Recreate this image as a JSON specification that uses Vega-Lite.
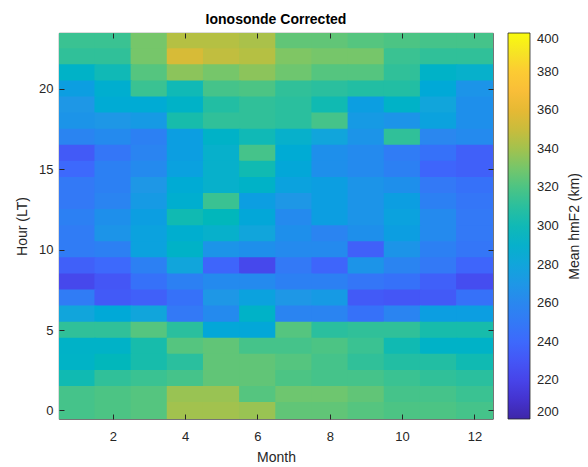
{
  "$schema": "https://vega.github.io/schema/vega-lite/v6.json",
  "width": 434,
  "height": 386,
  "autosize": {"type": "none"},
  "padding": {"left": 59, "top": 33, "right": 95, "bottom": 48},
  "background": "white",
  "config": {
    "font": "Liberation Sans",
    "view": {"stroke": "#262626", "strokeWidth": 0.8},
    "axis": {"labelFont": "Liberation Sans", "titleFont": "Liberation Sans", "labelColor": "#262626", "titleColor": "#262626", "labelFontSize": 13, "titleFontSize": 14, "titleFontWeight": "normal", "tickColor": "#262626", "domain": false, "grid": false}
  },
  "title": {"text": "Ionosonde Corrected", "fontSize": 14, "fontWeight": "bold", "color": "#000000", "font": "Liberation Sans", "anchor": "middle", "offset": 6},
  "data": {"values": [
{"h":23,"m":1,"v":315},{"h":23,"m":2,"v":315},{"h":23,"m":3,"v":330},{"h":23,"m":4,"v":345},{"h":23,"m":5,"v":345},{"h":23,"m":6,"v":342},{"h":23,"m":7,"v":325},{"h":23,"m":8,"v":325},{"h":23,"m":9,"v":322},{"h":23,"m":10,"v":320},{"h":23,"m":11,"v":318},{"h":23,"m":12,"v":318},
{"h":22,"m":1,"v":312},{"h":22,"m":2,"v":312},{"h":22,"m":3,"v":330},{"h":22,"m":4,"v":355},{"h":22,"m":5,"v":348},{"h":22,"m":6,"v":345},{"h":22,"m":7,"v":332},{"h":22,"m":8,"v":330},{"h":22,"m":9,"v":330},{"h":22,"m":10,"v":315},{"h":22,"m":11,"v":312},{"h":22,"m":12,"v":312},
{"h":21,"m":1,"v":292},{"h":21,"m":2,"v":300},{"h":21,"m":3,"v":322},{"h":21,"m":4,"v":335},{"h":21,"m":5,"v":330},{"h":21,"m":6,"v":335},{"h":21,"m":7,"v":328},{"h":21,"m":8,"v":322},{"h":21,"m":9,"v":322},{"h":21,"m":10,"v":312},{"h":21,"m":11,"v":292},{"h":21,"m":12,"v":290},
{"h":20,"m":1,"v":275},{"h":20,"m":2,"v":288},{"h":20,"m":3,"v":315},{"h":20,"m":4,"v":300},{"h":20,"m":5,"v":318},{"h":20,"m":6,"v":320},{"h":20,"m":7,"v":312},{"h":20,"m":8,"v":310},{"h":20,"m":9,"v":308},{"h":20,"m":10,"v":308},{"h":20,"m":11,"v":283},{"h":20,"m":12,"v":268},
{"h":19,"m":1,"v":270},{"h":19,"m":2,"v":285},{"h":19,"m":3,"v":285},{"h":19,"m":4,"v":292},{"h":19,"m":5,"v":308},{"h":19,"m":6,"v":312},{"h":19,"m":7,"v":310},{"h":19,"m":8,"v":302},{"h":19,"m":9,"v":275},{"h":19,"m":10,"v":292},{"h":19,"m":11,"v":280},{"h":19,"m":12,"v":265},
{"h":18,"m":1,"v":268},{"h":18,"m":2,"v":270},{"h":18,"m":3,"v":272},{"h":18,"m":4,"v":305},{"h":18,"m":5,"v":312},{"h":18,"m":6,"v":312},{"h":18,"m":7,"v":310},{"h":18,"m":8,"v":318},{"h":18,"m":9,"v":272},{"h":18,"m":10,"v":268},{"h":18,"m":11,"v":278},{"h":18,"m":12,"v":265},
{"h":17,"m":1,"v":258},{"h":17,"m":2,"v":262},{"h":17,"m":3,"v":255},{"h":17,"m":4,"v":275},{"h":17,"m":5,"v":292},{"h":17,"m":6,"v":300},{"h":17,"m":7,"v":290},{"h":17,"m":8,"v":280},{"h":17,"m":9,"v":268},{"h":17,"m":10,"v":312},{"h":17,"m":11,"v":260},{"h":17,"m":12,"v":262},
{"h":16,"m":1,"v":232},{"h":16,"m":2,"v":248},{"h":16,"m":3,"v":258},{"h":16,"m":4,"v":275},{"h":16,"m":5,"v":290},{"h":16,"m":6,"v":318},{"h":16,"m":7,"v":285},{"h":16,"m":8,"v":265},{"h":16,"m":9,"v":262},{"h":16,"m":10,"v":252},{"h":16,"m":11,"v":245},{"h":16,"m":12,"v":235},
{"h":15,"m":1,"v":240},{"h":15,"m":2,"v":255},{"h":15,"m":3,"v":262},{"h":15,"m":4,"v":277},{"h":15,"m":5,"v":290},{"h":15,"m":6,"v":302},{"h":15,"m":7,"v":282},{"h":15,"m":8,"v":265},{"h":15,"m":9,"v":262},{"h":15,"m":10,"v":255},{"h":15,"m":11,"v":238},{"h":15,"m":12,"v":235},
{"h":14,"m":1,"v":250},{"h":14,"m":2,"v":255},{"h":14,"m":3,"v":270},{"h":14,"m":4,"v":285},{"h":14,"m":5,"v":290},{"h":14,"m":6,"v":292},{"h":14,"m":7,"v":278},{"h":14,"m":8,"v":275},{"h":14,"m":9,"v":268},{"h":14,"m":10,"v":265},{"h":14,"m":11,"v":250},{"h":14,"m":12,"v":245},
{"h":13,"m":1,"v":250},{"h":13,"m":2,"v":258},{"h":13,"m":3,"v":272},{"h":13,"m":4,"v":288},{"h":13,"m":5,"v":315},{"h":13,"m":6,"v":275},{"h":13,"m":7,"v":270},{"h":13,"m":8,"v":275},{"h":13,"m":9,"v":268},{"h":13,"m":10,"v":275},{"h":13,"m":11,"v":255},{"h":13,"m":12,"v":248},
{"h":12,"m":1,"v":255},{"h":12,"m":2,"v":265},{"h":12,"m":3,"v":275},{"h":12,"m":4,"v":302},{"h":12,"m":5,"v":298},{"h":12,"m":6,"v":282},{"h":12,"m":7,"v":262},{"h":12,"m":8,"v":275},{"h":12,"m":9,"v":268},{"h":12,"m":10,"v":278},{"h":12,"m":11,"v":262},{"h":12,"m":12,"v":250},
{"h":11,"m":1,"v":252},{"h":11,"m":2,"v":268},{"h":11,"m":3,"v":278},{"h":11,"m":4,"v":288},{"h":11,"m":5,"v":290},{"h":11,"m":6,"v":280},{"h":11,"m":7,"v":265},{"h":11,"m":8,"v":258},{"h":11,"m":9,"v":265},{"h":11,"m":10,"v":275},{"h":11,"m":11,"v":262},{"h":11,"m":12,"v":250},
{"h":10,"m":1,"v":252},{"h":10,"m":2,"v":255},{"h":10,"m":3,"v":278},{"h":10,"m":4,"v":292},{"h":10,"m":5,"v":268},{"h":10,"m":6,"v":265},{"h":10,"m":7,"v":262},{"h":10,"m":8,"v":262},{"h":10,"m":9,"v":235},{"h":10,"m":10,"v":268},{"h":10,"m":11,"v":255},{"h":10,"m":12,"v":248},
{"h":9,"m":1,"v":235},{"h":9,"m":2,"v":240},{"h":9,"m":3,"v":255},{"h":9,"m":4,"v":280},{"h":9,"m":5,"v":238},{"h":9,"m":6,"v":222},{"h":9,"m":7,"v":250},{"h":9,"m":8,"v":238},{"h":9,"m":9,"v":268},{"h":9,"m":10,"v":258},{"h":9,"m":11,"v":250},{"h":9,"m":12,"v":238},
{"h":8,"m":1,"v":222},{"h":8,"m":2,"v":230},{"h":8,"m":3,"v":245},{"h":8,"m":4,"v":255},{"h":8,"m":5,"v":262},{"h":8,"m":6,"v":262},{"h":8,"m":7,"v":255},{"h":8,"m":8,"v":255},{"h":8,"m":9,"v":248},{"h":8,"m":10,"v":245},{"h":8,"m":11,"v":235},{"h":8,"m":12,"v":225},
{"h":7,"m":1,"v":252},{"h":7,"m":2,"v":232},{"h":7,"m":3,"v":235},{"h":7,"m":4,"v":245},{"h":7,"m":5,"v":270},{"h":7,"m":6,"v":278},{"h":7,"m":7,"v":270},{"h":7,"m":8,"v":272},{"h":7,"m":9,"v":232},{"h":7,"m":10,"v":230},{"h":7,"m":11,"v":232},{"h":7,"m":12,"v":245},
{"h":6,"m":1,"v":280},{"h":6,"m":2,"v":283},{"h":6,"m":3,"v":280},{"h":6,"m":4,"v":250},{"h":6,"m":5,"v":262},{"h":6,"m":6,"v":292},{"h":6,"m":7,"v":258},{"h":6,"m":8,"v":258},{"h":6,"m":9,"v":245},{"h":6,"m":10,"v":258},{"h":6,"m":11,"v":275},{"h":6,"m":12,"v":275},
{"h":5,"m":1,"v":312},{"h":5,"m":2,"v":312},{"h":5,"m":3,"v":322},{"h":5,"m":4,"v":310},{"h":5,"m":5,"v":282},{"h":5,"m":6,"v":282},{"h":5,"m":7,"v":322},{"h":5,"m":8,"v":310},{"h":5,"m":9,"v":312},{"h":5,"m":10,"v":312},{"h":5,"m":11,"v":305},{"h":5,"m":12,"v":305},
{"h":4,"m":1,"v":292},{"h":4,"m":2,"v":292},{"h":4,"m":3,"v":305},{"h":4,"m":4,"v":322},{"h":4,"m":5,"v":325},{"h":4,"m":6,"v":318},{"h":4,"m":7,"v":318},{"h":4,"m":8,"v":320},{"h":4,"m":9,"v":315},{"h":4,"m":10,"v":302},{"h":4,"m":11,"v":292},{"h":4,"m":12,"v":292},
{"h":3,"m":1,"v":293},{"h":3,"m":2,"v":298},{"h":3,"m":3,"v":305},{"h":3,"m":4,"v":310},{"h":3,"m":5,"v":325},{"h":3,"m":6,"v":325},{"h":3,"m":7,"v":322},{"h":3,"m":8,"v":318},{"h":3,"m":9,"v":312},{"h":3,"m":10,"v":308},{"h":3,"m":11,"v":308},{"h":3,"m":12,"v":302},
{"h":2,"m":1,"v":302},{"h":2,"m":2,"v":312},{"h":2,"m":3,"v":315},{"h":2,"m":4,"v":318},{"h":2,"m":5,"v":325},{"h":2,"m":6,"v":325},{"h":2,"m":7,"v":320},{"h":2,"m":8,"v":318},{"h":2,"m":9,"v":318},{"h":2,"m":10,"v":315},{"h":2,"m":11,"v":312},{"h":2,"m":12,"v":310},
{"h":1,"m":1,"v":318},{"h":1,"m":2,"v":320},{"h":1,"m":3,"v":322},{"h":1,"m":4,"v":338},{"h":1,"m":5,"v":338},{"h":1,"m":6,"v":322},{"h":1,"m":7,"v":328},{"h":1,"m":8,"v":328},{"h":1,"m":9,"v":325},{"h":1,"m":10,"v":318},{"h":1,"m":11,"v":318},{"h":1,"m":12,"v":315},
{"h":0,"m":1,"v":318},{"h":0,"m":2,"v":320},{"h":0,"m":3,"v":322},{"h":0,"m":4,"v":340},{"h":0,"m":5,"v":340},{"h":0,"m":6,"v":338},{"h":0,"m":7,"v":325},{"h":0,"m":8,"v":325},{"h":0,"m":9,"v":322},{"h":0,"m":10,"v":320},{"h":0,"m":11,"v":320},{"h":0,"m":12,"v":318}
  ]},
  "layer": [
    {
      "mark": {"type": "rect", "width": {"band": 1.04}, "height": {"band": 1.1}, "clip": true},
      "encoding": {
        "x": {"field": "m", "type": "ordinal", "scale": {"domain": [1,2,3,4,5,6,7,8,9,10,11,12], "paddingInner": 0, "paddingOuter": 0},
              "axis": {"orient": "bottom", "title": "Month", "values": [2,4,6,8,10,12], "labelAngle": 0, "tickSize": -5, "labelPadding": 16, "titlePadding": 7}},
        "y": {"field": "h", "type": "ordinal", "scale": {"domain": [23,22,21,20,19,18,17,16,15,14,13,12,11,10,9,8,7,6,5,4,3,2,1,0], "paddingInner": 0, "paddingOuter": 0},
              "axis": {"orient": "left", "title": "Hour (LT)", "values": [0,5,10,15,20], "tickSize": -5, "labelPadding": 11, "titlePadding": 9}},
        "color": {"field": "v", "type": "quantitative",
                  "scale": {"domain": [200, 400], "range": ["#3E26A8","#4433CF","#4744E9","#4456F6","#3D69FC","#3379F6","#2A87EF","#1E97E6","#11A5DB","#07B0CB","#10B9B6","#2ABF9E","#4CC484","#76C66A","#A2C24E","#C9BC3C","#E6B934","#F9BE38","#FCCB33","#F6E424","#F9FB0E"], "clamp": true},
                  "legend": {"type": "gradient", "title": null, "orient": "right", "direction": "vertical", "gradientLength": 386, "gradientThickness": 22, "offset": -74, "padding": 0,
                             "values": [200,220,240,260,280,300,320,340,360,380,400], "labelOverlap": false, "labelFontSize": 13, "labelColor": "#262626", "labelFont": "Liberation Sans", "labelOffset": 7, "labelBaseline": "middle",
                             "gradientStrokeColor": "#262626", "gradientStrokeWidth": 0.8}}
      }
    },
    {
      "mark": {"type": "rect", "opacity": 0},
      "encoding": {
        "x": {"field": "m", "type": "ordinal", "axis": {"orient": "top", "title": null, "labels": false, "values": [2,4,6,8,10,12], "tickSize": -5}},
        "y": {"field": "h", "type": "ordinal", "axis": {"orient": "right", "title": "Mean hmF2 (km)", "titleAngle": 270, "titlePadding": 88, "labels": false, "values": [0,5,10,15,20], "tickSize": -5}}
      }
    }
  ]
}
